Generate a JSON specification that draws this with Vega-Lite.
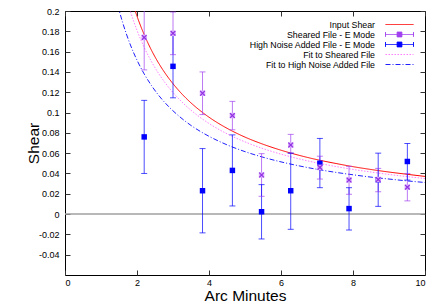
{
  "$schema": "https://vega.github.io/schema/vega-lite/v6.json",
  "width": 360,
  "height": 264,
  "autosize": "none",
  "padding": {"left": 65, "top": 11, "right": 11, "bottom": 31},
  "background": "white",
  "config": {
    "view": {"stroke": "#000", "strokeWidth": 1},
    "font": "Liberation Sans",
    "axis": {"grid": false, "domain": false, "ticks": true, "tickColor": "#333", "tickWidth": 1, "labelColor": "#000", "titleColor": "#000", "labelFont": "Liberation Sans", "titleFont": "Liberation Sans", "labelFontSize": 9, "titleFontSize": 15.5, "titleFontWeight": "normal", "tickSize": 5, "offset": -5}
  },
  "datasets": {
    "pts": [
      {"series": "Sheared File - E Mode", "x": 2.2, "y": 0.174, "lo": 0.142, "hi": 0.206},
      {"series": "Sheared File - E Mode", "x": 3.0, "y": 0.178, "lo": 0.157, "hi": 0.199},
      {"series": "Sheared File - E Mode", "x": 3.82, "y": 0.119, "lo": 0.098, "hi": 0.140},
      {"series": "Sheared File - E Mode", "x": 4.65, "y": 0.097, "lo": 0.083, "hi": 0.111},
      {"series": "Sheared File - E Mode", "x": 5.46, "y": 0.0385, "lo": 0.0175, "hi": 0.0595},
      {"series": "Sheared File - E Mode", "x": 6.27, "y": 0.068, "lo": 0.060, "hi": 0.0785},
      {"series": "Sheared File - E Mode", "x": 7.08, "y": 0.046, "lo": 0.0345, "hi": 0.057},
      {"series": "Sheared File - E Mode", "x": 7.89, "y": 0.0335, "lo": 0.0195, "hi": 0.047},
      {"series": "Sheared File - E Mode", "x": 8.7, "y": 0.034, "lo": 0.022, "hi": 0.045},
      {"series": "Sheared File - E Mode", "x": 9.51, "y": 0.0265, "lo": 0.013, "hi": 0.040},
      {"series": "High Noise Added File - E Mode", "x": 2.2, "y": 0.076, "lo": 0.040, "hi": 0.112},
      {"series": "High Noise Added File - E Mode", "x": 3.0, "y": 0.1455, "lo": 0.1145, "hi": 0.177},
      {"series": "High Noise Added File - E Mode", "x": 3.82, "y": 0.023, "lo": -0.0185, "hi": 0.0645},
      {"series": "High Noise Added File - E Mode", "x": 4.65, "y": 0.043, "lo": 0.008, "hi": 0.078},
      {"series": "High Noise Added File - E Mode", "x": 5.46, "y": 0.0023, "lo": -0.0245, "hi": 0.029},
      {"series": "High Noise Added File - E Mode", "x": 6.27, "y": 0.023, "lo": -0.015, "hi": 0.060},
      {"series": "High Noise Added File - E Mode", "x": 7.08, "y": 0.050, "lo": 0.026, "hi": 0.0745},
      {"series": "High Noise Added File - E Mode", "x": 7.89, "y": 0.0054, "lo": -0.0157, "hi": 0.026},
      {"series": "High Noise Added File - E Mode", "x": 8.7, "y": 0.0338, "lo": 0.0076, "hi": 0.060},
      {"series": "High Noise Added File - E Mode", "x": 9.51, "y": 0.0518, "lo": 0.0335, "hi": 0.0695}
    ],
    "curves": [
      {"series": "Input Shear", "x": 1.8, "y": 0.2172},
      {"series": "Input Shear", "x": 1.9, "y": 0.2055},
      {"series": "Input Shear", "x": 2.0, "y": 0.1949},
      {"series": "Input Shear", "x": 2.2, "y": 0.1767},
      {"series": "Input Shear", "x": 2.4, "y": 0.1615},
      {"series": "Input Shear", "x": 2.6, "y": 0.1487},
      {"series": "Input Shear", "x": 2.8, "y": 0.1378},
      {"series": "Input Shear", "x": 3.0, "y": 0.1284},
      {"series": "Input Shear", "x": 3.25, "y": 0.1182},
      {"series": "Input Shear", "x": 3.5, "y": 0.1095},
      {"series": "Input Shear", "x": 3.75, "y": 0.1020},
      {"series": "Input Shear", "x": 4.0, "y": 0.0954},
      {"series": "Input Shear", "x": 4.5, "y": 0.0845},
      {"series": "Input Shear", "x": 5.0, "y": 0.0758},
      {"series": "Input Shear", "x": 5.5, "y": 0.0688},
      {"series": "Input Shear", "x": 6.0, "y": 0.0629},
      {"series": "Input Shear", "x": 6.5, "y": 0.0579},
      {"series": "Input Shear", "x": 7.0, "y": 0.0536},
      {"series": "Input Shear", "x": 7.5, "y": 0.0500},
      {"series": "Input Shear", "x": 8.0, "y": 0.0467},
      {"series": "Input Shear", "x": 8.5, "y": 0.0439},
      {"series": "Input Shear", "x": 9.0, "y": 0.0414},
      {"series": "Input Shear", "x": 9.5, "y": 0.0392},
      {"series": "Input Shear", "x": 10.0, "y": 0.0371},
      {"series": "Fit to Sheared File", "x": 1.7, "y": 0.2136},
      {"series": "Fit to Sheared File", "x": 1.8, "y": 0.2015},
      {"series": "Fit to Sheared File", "x": 1.9, "y": 0.1907},
      {"series": "Fit to Sheared File", "x": 2.0, "y": 0.1810},
      {"series": "Fit to Sheared File", "x": 2.2, "y": 0.1642},
      {"series": "Fit to Sheared File", "x": 2.4, "y": 0.1503},
      {"series": "Fit to Sheared File", "x": 2.6, "y": 0.1385},
      {"series": "Fit to Sheared File", "x": 2.8, "y": 0.1284},
      {"series": "Fit to Sheared File", "x": 3.0, "y": 0.1197},
      {"series": "Fit to Sheared File", "x": 3.25, "y": 0.1103},
      {"series": "Fit to Sheared File", "x": 3.5, "y": 0.1023},
      {"series": "Fit to Sheared File", "x": 3.75, "y": 0.0953},
      {"series": "Fit to Sheared File", "x": 4.0, "y": 0.0892},
      {"series": "Fit to Sheared File", "x": 4.5, "y": 0.0791},
      {"series": "Fit to Sheared File", "x": 5.0, "y": 0.0711},
      {"series": "Fit to Sheared File", "x": 5.5, "y": 0.0645},
      {"series": "Fit to Sheared File", "x": 6.0, "y": 0.0590},
      {"series": "Fit to Sheared File", "x": 6.5, "y": 0.0544},
      {"series": "Fit to Sheared File", "x": 7.0, "y": 0.0504},
      {"series": "Fit to Sheared File", "x": 7.5, "y": 0.0470},
      {"series": "Fit to Sheared File", "x": 8.0, "y": 0.0440},
      {"series": "Fit to Sheared File", "x": 8.5, "y": 0.0414},
      {"series": "Fit to Sheared File", "x": 9.0, "y": 0.0390},
      {"series": "Fit to Sheared File", "x": 9.5, "y": 0.0369},
      {"series": "Fit to Sheared File", "x": 10.0, "y": 0.0350},
      {"series": "Fit to High Noise Added File", "x": 1.4, "y": 0.2154},
      {"series": "Fit to High Noise Added File", "x": 1.5, "y": 0.2012},
      {"series": "Fit to High Noise Added File", "x": 1.6, "y": 0.1888},
      {"series": "Fit to High Noise Added File", "x": 1.7, "y": 0.1779},
      {"series": "Fit to High Noise Added File", "x": 1.8, "y": 0.1681},
      {"series": "Fit to High Noise Added File", "x": 1.9, "y": 0.1594},
      {"series": "Fit to High Noise Added File", "x": 2.0, "y": 0.1516},
      {"series": "Fit to High Noise Added File", "x": 2.2, "y": 0.1380},
      {"series": "Fit to High Noise Added File", "x": 2.4, "y": 0.1267},
      {"series": "Fit to High Noise Added File", "x": 2.6, "y": 0.1170},
      {"series": "Fit to High Noise Added File", "x": 2.8, "y": 0.1088},
      {"series": "Fit to High Noise Added File", "x": 3.0, "y": 0.1017},
      {"series": "Fit to High Noise Added File", "x": 3.25, "y": 0.0940},
      {"series": "Fit to High Noise Added File", "x": 3.5, "y": 0.0873},
      {"series": "Fit to High Noise Added File", "x": 3.75, "y": 0.0816},
      {"series": "Fit to High Noise Added File", "x": 4.0, "y": 0.0766},
      {"series": "Fit to High Noise Added File", "x": 4.5, "y": 0.0682},
      {"series": "Fit to High Noise Added File", "x": 5.0, "y": 0.0615},
      {"series": "Fit to High Noise Added File", "x": 5.5, "y": 0.0560},
      {"series": "Fit to High Noise Added File", "x": 6.0, "y": 0.0514},
      {"series": "Fit to High Noise Added File", "x": 6.5, "y": 0.0475},
      {"series": "Fit to High Noise Added File", "x": 7.0, "y": 0.0441},
      {"series": "Fit to High Noise Added File", "x": 7.5, "y": 0.0412},
      {"series": "Fit to High Noise Added File", "x": 8.0, "y": 0.0387},
      {"series": "Fit to High Noise Added File", "x": 8.5, "y": 0.0364},
      {"series": "Fit to High Noise Added File", "x": 9.0, "y": 0.0345},
      {"series": "Fit to High Noise Added File", "x": 9.5, "y": 0.0327},
      {"series": "Fit to High Noise Added File", "x": 10.0, "y": 0.0311}
    ]
  },
  "resolve": {"axis": {"x": "independent", "y": "independent"}},
  "layer": [
    {
      "data": {"values": [{"y": 0}]},
      "mark": {"type": "rule", "color": "#a0a0a0", "strokeWidth": 1.5},
      "encoding": {
        "y": {"field": "y", "type": "quantitative", "axis": {"orient": "right", "labels": false, "title": null, "values": [-0.04, -0.02, 0, 0.02, 0.04, 0.06, 0.08, 0.1, 0.12, 0.14, 0.16, 0.18, 0.2]}},
        "x": {"datum": 0, "type": "quantitative", "axis": {"orient": "top", "labels": false, "title": null, "values": [0, 2, 4, 6, 8, 10]}},
        "x2": {"datum": 10}
      }
    },
    {
      "encoding": {
        "x": {"field": "x", "type": "quantitative", "scale": {"domain": [0, 10]}, "axis": {"orient": "bottom", "title": "Arc Minutes", "values": [0, 2, 4, 6, 8, 10], "labelPadding": 3, "titlePadding": 1}},
        "y": {"field": "y", "type": "quantitative", "scale": {"domain": [-0.05, 0.2]}, "axis": {"orient": "left", "title": "Shear", "values": [-0.04, -0.02, 0, 0.02, 0.04, 0.06, 0.08, 0.1, 0.12, 0.14, 0.16, 0.18, 0.2], "labelExpr": "replace(format(datum.value, '~g'), '\u2212', '-')", "labelPadding": 6, "titlePadding": -3}},
        "color": {"field": "series", "type": "nominal",
          "scale": {
            "domain": ["Input Shear", "Sheared File - E Mode", "High Noise Added File - E Mode", "Fit to Sheared File", "Fit to High Noise Added File"],
            "range": ["#ff0000", "#a040f0", "#0000ff", "#ff80ff", "#2020ff"]
          },
          "legend": {
            "title": null,
            "orient": "top-right",
            "offset": 9,
            "padding": 0,
            "rowPadding": 0,
            "labelFont": "Liberation Sans",
            "labelFontSize": 8.8,
            "labelColor": "#000",
            "labelLimit": 0,
            "labelAlign": "right",
            "labelOffset": -35,
            "symbolSize": 64,
            "symbolStrokeWidth": 1,
            "encode": {
              "symbols": {
                "update": {
                  "shape": {"signal": "(datum.value == 'Sheared File - E Mode' || datum.value == 'High Noise Added File - E Mode') ? 'M-5,0H2M-5,-0.6V0.6M2,-0.6V0.6M-2.1,-0.6H-0.9V0.6H-2.1Z' : 'M-5,0H2'"},
                  "strokeDash": {"signal": "datum.value == 'Fit to Sheared File' ? [1.5,1.5] : (datum.value == 'Fit to High Noise Added File' ? [5,2,1,2] : [1,0])"},
                  "fill": {"signal": "datum.value == 'Sheared File - E Mode' ? '#9030e0' : (datum.value == 'High Noise Added File - E Mode' ? '#0000ff' : 'transparent')"},
                  "stroke": {"signal": "datum.value == 'Sheared File - E Mode' ? '#c080ff' : scale('color', datum.value)"},
                  "opacity": {"value": 1}
                }
              }
            }
          }
        }
      },
      "layer": [
        {
          "data": {"name": "curves"},
          "mark": {"type": "line", "clip": true, "strokeWidth": 1, "interpolate": "monotone"},
          "encoding": {
            "strokeDash": {"field": "series", "type": "nominal", "legend": null,
              "scale": {"domain": ["Input Shear", "Fit to Sheared File", "Fit to High Noise Added File"], "range": [[1, 0], [1.5, 1.5], [5, 2, 1, 2]]}}
          }
        },
        {
          "data": {"name": "pts"},
          "mark": {"type": "rule", "clip": true, "strokeWidth": 1, "opacity": 0.7},
          "encoding": {
            "y": {"field": "lo", "type": "quantitative"},
            "y2": {"field": "hi"}
          }
        },
        {
          "data": {"name": "pts"},
          "mark": {"type": "tick", "clip": true, "orient": "horizontal", "size": 6, "thickness": 1, "opacity": 0.7},
          "encoding": {
            "y": {"field": "lo", "type": "quantitative"}
          }
        },
        {
          "data": {"name": "pts"},
          "mark": {"type": "tick", "clip": true, "orient": "horizontal", "size": 6, "thickness": 1, "opacity": 0.7},
          "encoding": {
            "y": {"field": "hi", "type": "quantitative"}
          }
        },
        {
          "data": {"name": "pts"},
          "transform": [{"filter": "datum.series == 'High Noise Added File - E Mode'"}],
          "mark": {"type": "point", "clip": true, "shape": "square", "filled": true, "size": 30, "opacity": 1}
        },
        {
          "data": {"name": "pts"},
          "transform": [{"filter": "datum.series == 'Sheared File - E Mode'"}],
          "mark": {"type": "point", "clip": true, "shape": "square", "filled": true, "size": 30, "opacity": 1},
          "encoding": {"color": {"value": "#d8aaff"}}
        },
        {
          "data": {"name": "pts"},
          "transform": [{"filter": "datum.series == 'Sheared File - E Mode'"}],
          "mark": {"type": "point", "clip": true, "shape": "M-1,-1L1,1M-1,1L1,-1", "filled": false, "size": 22, "strokeWidth": 1.2, "opacity": 1},
          "encoding": {"color": {"value": "#9030e0"}}
        }
      ]
    }
  ]
}
